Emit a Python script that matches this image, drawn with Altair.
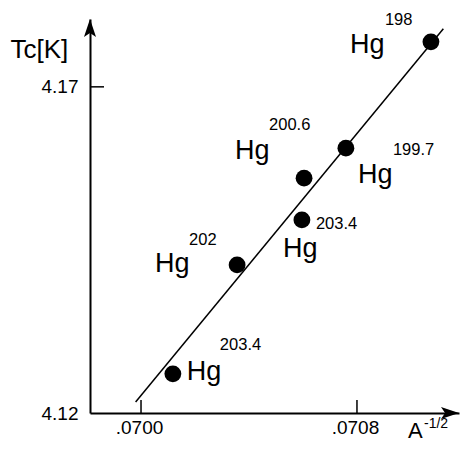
import altair as alt
import pandas as pd

# ---- data ----
x_vals = [0.070118, 0.070356, 0.070596, 0.070604, 0.070759, 0.071074]   # A^-1/2
tc_vals = [4.1260, 4.1427, 4.1496, 4.1560, 4.1606, 4.1769]              # Tc [K]
element = ["Hg", "Hg", "Hg", "Hg", "Hg", "Hg"]
mass_labels = ["203.4", "202", "203.4", "200.6", "199.7", "198"]
fit_x = [0.06998, 0.07112]
fit_tc = [4.1217, 4.1789]
x_ticks = [0.0700, 0.0708]
y_ticks = [4.12, 4.17]
x_domain = [0.069811, 0.071178]
y_domain = [4.12, 4.1804]

# ---- style / layout config ----
FONT = "Liberation Sans"
W, H = 369, 394
# (dx, dy) offsets for "Hg" and for the mass superscript, per point
hg_offsets = [(14, 6), (-82, 7), (-19, 37), (-69, -19), (12, 35), (-81, 11)]
sup_offsets = [(47, -24), (-48, -20), (14, 9), (-35, -48), (47, 7), (-46, -17)]

df = pd.DataFrame({"x": x_vals, "tc": tc_vals, "el": element, "mass": mass_labels})
fit_df = pd.DataFrame({"x": fit_x, "tc": fit_tc})

xs = alt.Scale(domain=x_domain, nice=False, zero=False)
ys = alt.Scale(domain=y_domain, nice=False, zero=False)
X = lambda: alt.X("x:Q", scale=xs)
Y = lambda: alt.Y("tc:Q", scale=ys)

points = alt.Chart(df).mark_circle(size=283, color="black", opacity=1).encode(
    x=alt.X("x:Q", scale=xs, axis=alt.Axis(
        values=x_ticks, title=None, domain=True, domainColor="black", domainWidth=2,
        ticks=False, grid=False, labelFontSize=19, labelFont=FONT, labelColor="black",
        labelPadding=5, labelOffset=-2, labelFlush=False, labelOverlap=False,
        labelExpr="substring(format(datum.value, '.4f'), 1)")),
    y=alt.Y("tc:Q", scale=ys, axis=alt.Axis(
        values=y_ticks, title="Tc[K]", titleAngle=0, titleX=-80, titleY=38,
        titleAlign="left", titleBaseline="alphabetic", titleFontSize=26,
        titleFontWeight="normal", titleFont=FONT, titleColor="black",
        domain=True, domainColor="black", domainWidth=2, ticks=False, grid=False,
        labelFontSize=19, labelPadding=12, labelFont=FONT, labelColor="black",
        format=".2f")),
)

fit = alt.Chart(fit_df).mark_line(color="black", strokeWidth=1.5).encode(x=X(), y=Y())

xtick_rules = alt.Chart(pd.DataFrame({"x": x_ticks})).mark_rule(
    color="black", strokeWidth=1.5).encode(x=X(), y=alt.value(H), y2=alt.value(H - 13))
ytick_rules = alt.Chart(pd.DataFrame({"tc": [y_ticks[1]]})).mark_rule(
    color="black", strokeWidth=1.5).encode(y=Y(), x=alt.value(0), x2=alt.value(14))

up_arrow = alt.Chart(pd.DataFrame({"x": [x_domain[0]], "tc": [y_domain[1]]})).mark_point(
    shape="M0,0 L0.67,2 L0,1.55 L-0.67,2 Z", size=324, filled=True,
    color="black", opacity=1, strokeWidth=0).encode(x=X(), y=Y())
right_arrow = alt.Chart(pd.DataFrame({"x": [x_domain[1]], "tc": [y_domain[0]]})).mark_point(
    shape="M0,0 L-2,-0.67 L-1.55,0 L-2,0.67 Z", size=324, filled=True,
    color="black", opacity=1, strokeWidth=0).encode(x=X(), y=Y())

label_layers = []
for i in range(len(x_vals)):
    sub = df.iloc[[i]]
    hx, hy = hg_offsets[i]
    sx, sy = sup_offsets[i]
    label_layers.append(alt.Chart(sub).mark_text(
        align="left", baseline="alphabetic", dx=hx, dy=hy, fontSize=27,
        font=FONT, color="black").encode(x=X(), y=Y(), text="el:N"))
    label_layers.append(alt.Chart(sub).mark_text(
        align="left", baseline="alphabetic", dx=sx, dy=sy, fontSize=16.5,
        font=FONT, color="black").encode(x=X(), y=Y(), text="mass:N"))

xtitle = alt.Chart(pd.DataFrame({"t": ["A"]})).mark_text(
    align="left", baseline="alphabetic", fontSize=22, font=FONT, color="black").encode(
    x=alt.value(318), y=alt.value(419), text="t:N")
xtitle_sup = alt.Chart(pd.DataFrame({"t": ["-1/2"]})).mark_text(
    align="left", baseline="alphabetic", fontSize=14, font=FONT, color="black").encode(
    x=alt.value(334), y=alt.value(409), text="t:N")

chart = alt.layer(
    fit, points, xtick_rules, ytick_rules, up_arrow, right_arrow,
    *label_layers, xtitle, xtitle_sup
).properties(
    width=W, height=H,
    autosize=alt.AutoSizeParams(type="none"),
    padding={"left": 82, "top": 11, "right": 1, "bottom": 31},
).configure_view(stroke=None)

chart.save("out.html", embed_options={"renderer": "svg", "actions": False})
